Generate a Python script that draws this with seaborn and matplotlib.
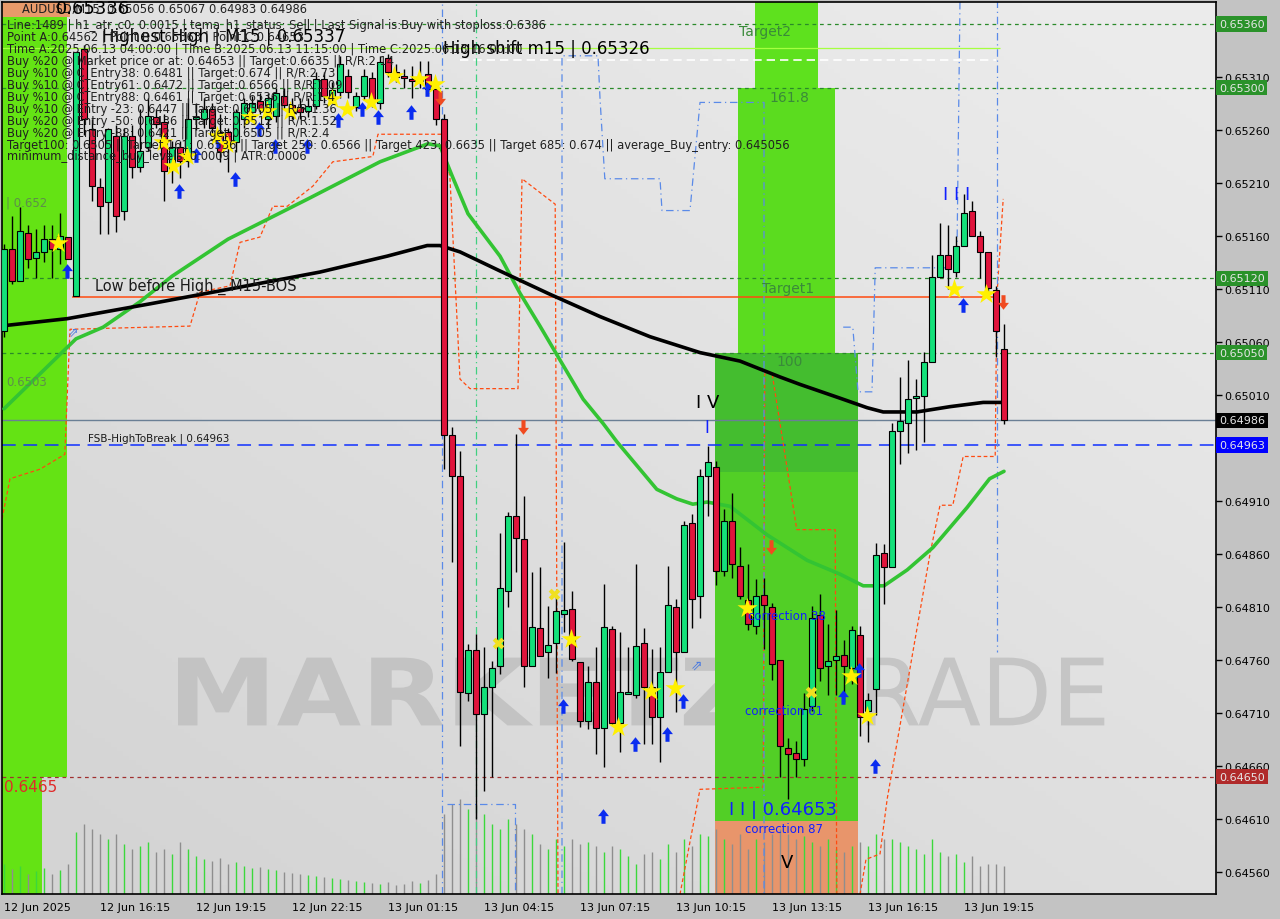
import matplotlib
matplotlib.use("Agg")
import numpy as np
import pandas as pd
import matplotlib.pyplot as plt
import matplotlib.transforms as mtransforms
from matplotlib.textpath import TextPath
from matplotlib.patches import PathPatch
from matplotlib.font_manager import FontProperties
import seaborn as sns

# ---------------- data ----------------
time_labels = ["12 Jun 2025", "12 Jun 16:15", "12 Jun 19:15", "12 Jun 22:15", "13 Jun 01:15",
               "13 Jun 04:15", "13 Jun 07:15", "13 Jun 10:15", "13 Jun 13:15", "13 Jun 16:15",
               "13 Jun 19:15"]
time_label_bars = [0, 12, 24, 36, 48, 60, 72, 84, 96, 108, 120]

opens = [0.65070, 0.65148, 0.65118, 0.65163, 0.65139, 0.65145, 0.65157, 0.65148, 0.65159, 0.65103,
         0.65336, 0.65261, 0.65206, 0.65192, 0.65254, 0.65184, 0.65254, 0.65225, 0.65244, 0.65272,
         0.65268, 0.65223, 0.65244, 0.65231, 0.65270, 0.65270, 0.65280, 0.65258, 0.65258, 0.65249,
         0.65270, 0.65277, 0.65287, 0.65270, 0.65273, 0.65292, 0.65284, 0.65282, 0.65278, 0.65283,
         0.65308, 0.65292, 0.65296, 0.65311, 0.65282, 0.65292, 0.65309, 0.65285, 0.65328, 0.65315,
         0.65311, 0.65308, 0.65306, 0.65313, 0.65299, 0.65270, 0.64972, 0.64934, 0.64729, 0.64769,
         0.64709, 0.64735, 0.64754, 0.64825, 0.64896, 0.64874, 0.64754, 0.64790, 0.64768, 0.64776,
         0.64803, 0.64808, 0.64758, 0.64702, 0.64739, 0.64696, 0.64789, 0.64701, 0.64728, 0.64727,
         0.64776, 0.64735, 0.64706, 0.64749, 0.64810, 0.64768, 0.64889, 0.64820, 0.64934, 0.64942,
         0.64844, 0.64891, 0.64849, 0.64817, 0.64792, 0.64821, 0.64810, 0.64760, 0.64677, 0.64672,
         0.64667, 0.64717, 0.64802, 0.64754, 0.64760, 0.64765, 0.64752, 0.64784, 0.64712, 0.64733,
         0.64861, 0.64848, 0.64976, 0.64984, 0.65007, 0.65009, 0.65041, 0.65121, 0.65142, 0.65126,
         0.65151, 0.65184, 0.65160, 0.65145, 0.65109, 0.65053]
highs = [0.65152, 0.65179, 0.65187, 0.65170, 0.65167, 0.65170, 0.65170, 0.65182, 0.65159, 0.65334,
         0.65340, 0.65270, 0.65215, 0.65262, 0.65265, 0.65262, 0.65265, 0.65280, 0.65290, 0.65280,
         0.65275, 0.65250, 0.65250, 0.65290, 0.65285, 0.65290, 0.65285, 0.65275, 0.65262, 0.65280,
         0.65290, 0.65292, 0.65295, 0.65295, 0.65300, 0.65300, 0.65290, 0.65290, 0.65290, 0.65315,
         0.65315, 0.65305, 0.65330, 0.65318, 0.65296, 0.65318, 0.65315, 0.65330, 0.65332, 0.65322,
         0.65318, 0.65320, 0.65325, 0.65325, 0.65305, 0.65275, 0.64980, 0.64957, 0.64775, 0.64785,
         0.64772, 0.64759, 0.64880, 0.64900, 0.64973, 0.64915, 0.64843, 0.64848, 0.64811, 0.64820,
         0.64871, 0.64825, 0.64758, 0.64754, 0.64772, 0.64832, 0.64792, 0.64786, 0.64772, 0.64851,
         0.64790, 0.64770, 0.64772, 0.64849, 0.64818, 0.64891, 0.64898, 0.64940, 0.64962, 0.64948,
         0.64902, 0.64918, 0.64867, 0.64851, 0.64836, 0.64837, 0.64814, 0.64760, 0.64686, 0.64684,
         0.64729, 0.64811, 0.64822, 0.64794, 0.64807, 0.64779, 0.64792, 0.64792, 0.64729, 0.64870,
         0.64869, 0.64984, 0.65027, 0.65043, 0.65025, 0.65051, 0.65142, 0.65172, 0.65170, 0.65160,
         0.65200, 0.65193, 0.65165, 0.65145, 0.65113, 0.65077]
lows = [0.65065, 0.65115, 0.65118, 0.65130, 0.65120, 0.65135, 0.65120, 0.65134, 0.65138, 0.65103,
        0.65255, 0.65193, 0.65162, 0.65162, 0.65164, 0.65175, 0.65215, 0.65220, 0.65240, 0.65262,
        0.65193, 0.65210, 0.65215, 0.65225, 0.65260, 0.65262, 0.65255, 0.65230, 0.65220, 0.65239,
        0.65262, 0.65270, 0.65275, 0.65262, 0.65268, 0.65280, 0.65270, 0.65270, 0.65272, 0.65280,
        0.65285, 0.65285, 0.65290, 0.65290, 0.65278, 0.65288, 0.65282, 0.65280, 0.65310, 0.65305,
        0.65300, 0.65290, 0.65300, 0.65295, 0.65265, 0.64940, 0.64852, 0.64679, 0.64721, 0.64610,
        0.64636, 0.64650, 0.64747, 0.64810, 0.64843, 0.64735, 0.64754, 0.64764, 0.64743, 0.64748,
        0.64786, 0.64759, 0.64697, 0.64695, 0.64671, 0.64659, 0.64699, 0.64673, 0.64728, 0.64724,
        0.64681, 0.64681, 0.64664, 0.64749, 0.64711, 0.64768, 0.64790, 0.64800, 0.64896, 0.64831,
        0.64839, 0.64837, 0.64818, 0.64788, 0.64785, 0.64770, 0.64741, 0.64650, 0.64629, 0.64650,
        0.64660, 0.64712, 0.64740, 0.64727, 0.64727, 0.64720, 0.64737, 0.64688, 0.64683, 0.64708,
        0.64813, 0.64848, 0.64945, 0.64955, 0.64958, 0.64966, 0.65041, 0.65121, 0.65110, 0.65121,
        0.65151, 0.65160, 0.65120, 0.65106, 0.65046, 0.64983]
closes = [0.65148, 0.65118, 0.65165, 0.65138, 0.65145, 0.65157, 0.65148, 0.65160, 0.65138, 0.65334,
          0.65270, 0.65207, 0.65188, 0.65261, 0.65179, 0.65254, 0.65225, 0.65240, 0.65273, 0.65266,
          0.65221, 0.65244, 0.65231, 0.65270, 0.65272, 0.65280, 0.65262, 0.65239, 0.65249, 0.65277,
          0.65285, 0.65285, 0.65281, 0.65290, 0.65295, 0.65284, 0.65276, 0.65277, 0.65283, 0.65308,
          0.65292, 0.65298, 0.65322, 0.65296, 0.65292, 0.65311, 0.65287, 0.65324, 0.65315, 0.65310,
          0.65309, 0.65306, 0.65310, 0.65299, 0.65270, 0.64972, 0.64934, 0.64730, 0.64769, 0.64709,
          0.64735, 0.64752, 0.64828, 0.64896, 0.64875, 0.64754, 0.64791, 0.64764, 0.64774, 0.64806,
          0.64807, 0.64761, 0.64702, 0.64739, 0.64696, 0.64791, 0.64701, 0.64730, 0.64730, 0.64773,
          0.64735, 0.64706, 0.64749, 0.64812, 0.64768, 0.64887, 0.64818, 0.64934, 0.64947, 0.64844,
          0.64891, 0.64851, 0.64820, 0.64794, 0.64820, 0.64812, 0.64756, 0.64679, 0.64671, 0.64667,
          0.64714, 0.64800, 0.64752, 0.64759, 0.64764, 0.64754, 0.64788, 0.64706, 0.64722, 0.64859,
          0.64848, 0.64976, 0.64985, 0.65006, 0.65009, 0.65041, 0.65121, 0.65142, 0.65129, 0.65151,
          0.65182, 0.65160, 0.65145, 0.65111, 0.65070, 0.64986]
volumes = [300, 250, 280, 200, 230, 260, 200, 240, 300,
           620, 700, 650, 600, 550, 600, 500, 450, 480, 520, 420, 450,
           400, 520, 450, 380, 350, 330, 360, 300, 320, 280, 260, 270, 250,
           240, 220, 210, 200, 190, 180, 170, 160, 150, 140, 130, 120, 110, 100, 120, 90, 100,
           130, 110, 140, 200,
           800, 900, 950, 850, 900, 800, 700, 650, 750, 700, 650, 600, 500, 450, 550, 480,
           550, 500, 520, 480, 420, 480, 450, 380, 300, 400, 420, 350, 500, 420, 550, 480, 600, 580,
           650, 550, 500, 600, 450, 550, 520, 600, 650, 600, 550, 580, 520, 480, 550, 450, 420,
           480, 520, 480, 600, 550,
           550, 520, 480, 450, 400, 550, 420, 380, 400, 320, 380, 280, 300, 300, 280]

# moving averages (bar index, price)
green_ma_bar = [0, 4.5, 9, 12.4, 17, 21, 28, 38, 47, 53, 54.5, 56, 58, 62, 64.5, 67, 69.5, 72.4,
                74.9, 76.6, 81.6, 84.1, 86.1, 87.9, 90.75, 95.4, 100.4, 104.5, 107.4, 110,
                112.9, 116.1, 120.4, 123.2, 125]
green_ma_val = [0.64997, 0.65030, 0.65063, 0.65074, 0.65098, 0.65122, 0.65157, 0.65195, 0.65230,
                0.65247, 0.65245, 0.65217, 0.65181, 0.65141, 0.65106, 0.65075, 0.65043, 0.65006,
                0.64983, 0.64966, 0.64921, 0.64912, 0.64907, 0.64909, 0.64905, 0.64878, 0.64854,
                0.64841, 0.64830, 0.64830, 0.64845, 0.64866, 0.64904, 0.64931, 0.64938]
black_ma_bar = [-0.5, 7.9, 18.25, 28.25, 39.5, 47.9, 52.9, 54.5, 57, 62, 68.25, 74.5, 80.75, 87,
                92, 97, 99.5, 104.5, 107.9, 109.9, 114.1, 118.25, 122.4, 125]
black_ma_val = [0.65075, 0.65082, 0.65096, 0.65110, 0.65126, 0.65141, 0.65151, 0.65151, 0.65145,
                0.65127, 0.65105, 0.65084, 0.65065, 0.65050, 0.65042, 0.65027, 0.65020, 0.65007,
                0.64998, 0.64994, 0.64994, 0.64999, 0.65003, 0.65003]

# step channels (bar index, price)
orange_a_bar = [-0.25, 0.75, 4.5, 7.6, 8.25, 23.25, 24.5, 28.25, 29.5, 32, 33.6, 35.4, 38.6, 41.1,
                46.1, 46.75, 54.9, 55.75, 57, 58.25, 64.25, 64.75, 68.9, 69.25]
orange_a_val = [0.64893, 0.64931, 0.64940, 0.64954, 0.65072, 0.65075, 0.65107, 0.65113, 0.65154,
                0.65159, 0.65188, 0.65188, 0.65207, 0.65230, 0.65235, 0.65256, 0.65256, 0.65214,
                0.65025, 0.65016, 0.65016, 0.65214, 0.65190, 0.64539]
orange_b_bar = [84.5, 87, 94.9, 95.1, 96, 99.1, 103.9, 104.1]
orange_b_val = [0.64539, 0.64638, 0.64640, 0.65031, 0.65031, 0.64883, 0.64883, 0.64539]
orange_c_bar = [107, 107.75, 109.5, 110.4, 115.75, 117, 118.6, 119.9, 123.9, 124.1, 124.9]
orange_c_val = [0.64539, 0.64572, 0.64577, 0.64629, 0.64860, 0.64906, 0.64906, 0.64952, 0.64952,
                0.65102, 0.65195]
blue_a_bar = [55.4, 63.9, 63.9]
blue_a_val = [0.64624, 0.64624, 0.64539]
blue_b_bar = [69.75, 69.75, 74.25, 74.5, 75.1, 82, 82.25, 85.75, 87, 95, 95]
blue_b_val = [0.64539, 0.65330, 0.65330, 0.65290, 0.65214, 0.65214, 0.65184, 0.65184, 0.65286,
              0.65286, 0.64539]
blue_c_bar = [104.9, 106.1, 106.75, 108.5, 108.9, 119.1, 119.5]
blue_c_val = [0.65074, 0.65074, 0.65013, 0.65013, 0.65130, 0.65130, 0.65383]
blue_d_bar = [124.1, 124.1]
blue_d_val = [0.65383, 0.64768]

# signals
buy_arrow_bar = [7.9, 21.9, 24, 26.75, 28.9, 31.9, 33.9, 37.9, 41.75, 44.75, 46.75, 50.9, 52.9,
                 69.9, 74.9, 78.9, 82.9, 84.9, 104.9, 106.9, 108.9, 119.9]
buy_arrow_val = [0.65127, 0.65202, 0.65236, 0.65250, 0.65214, 0.65261, 0.65245, 0.65245, 0.65269,
                 0.65280, 0.65272, 0.65277, 0.65299, 0.64717, 0.64613, 0.64681, 0.64690, 0.64721,
                 0.64725, 0.64751, 0.64660, 0.65095]
sell_arrow_bar = [54.5, 64.9, 95.9, 124.9]
sell_arrow_val = [0.65290, 0.64980, 0.64867, 0.65098]
star_bar = [6.75, 19.9, 21.1, 22.9, 26.6, 27.9, 30.75, 32.9, 35.75, 41, 42.9, 45.9, 48.75, 51.9,
            53.9, 70.9, 76.75, 80.9, 83.9, 92.9, 105.9, 107.9, 118.75, 122.75]
star_val = [0.65153, 0.65249, 0.65226, 0.65235, 0.65254, 0.65247, 0.65272, 0.65278, 0.65278,
            0.65289, 0.65280, 0.65286, 0.65311, 0.65308, 0.65303, 0.64780, 0.64697, 0.64731,
            0.64734, 0.64809, 0.64745, 0.64707, 0.65110, 0.65105]
cross_bar = [61.75, 68.75, 100.9]
cross_val = [0.64776, 0.64822, 0.64730]

# levels
green_levels = [0.65360, 0.65300, 0.65120, 0.65050]
support_level = 0.64650
bid_level = 0.64986
fsb_level = 0.64963
bos_level = 0.65102
highest_high = 0.65337
high_shift = 0.65326

y_ticks = [0.64560, 0.64610, 0.64660, 0.64710, 0.64760, 0.64810, 0.64860, 0.64910, 0.65010,
           0.65060, 0.65110, 0.65160, 0.65210, 0.65260, 0.65310]
price_boxes = [("0.65360", 0.65360, "#2a922a"), ("0.65300", 0.65300, "#2a922a"),
               ("0.65120", 0.65120, "#2a922a"), ("0.65050", 0.65050, "#2a922a"),
               ("0.64986", 0.64986, "#000000"), ("0.64963", 0.64963, "#0000ff"),
               ("0.64650", 0.64650, "#b02a2a")]

info_lines = [
    "Line:1489 | h1_atr_c0: 0.0015 | tema_h1_status: Sell | Last Signal is:Buy with stoploss:0.6386",
    "Point A:0.64562 | Point B:0.65363 | Point C:0.64653",
    "Time A:2025.06.13 04:00:00 | Time B:2025.06.13 11:15:00 | Time C:2025.06.13 16:00:00",
    "Buy %20 @ Market price or at: 0.64653 || Target:0.6635 || R/R:2.14",
    "Buy %10 @ C_Entry38: 0.6481 || Target:0.674 || R/R:2.73",
    "Buy %10 @ C_Entry61: 0.6472 || Target:0.6566 || R/R:1.09",
    "Buy %10 @ C_Entry88: 0.6461 || Target:0.6536 || R/R:1.4",
    "Buy %10 @ Entry -23: 0.6447 || Target:0.6505 || R/R:1.36",
    "Buy %20 @ Entry -50: 0.6436 || Target:0.6512 || R/R:1.52",
    "Buy %20 @ Entry -88: 0.6421 || Target:0.6505 || R/R:2.4",
    "Target100: 0.6505 || Target 161: 0.6536 || Target 250: 0.6566 || Target 423: 0.6635 || Target 685: 0.674 || average_Buy_entry: 0.645056",
    "minimum_distance_buy_levels: 0.0009 | ATR:0.0006",
]

# ---------------- figure ----------------
sns.set_style("white")
plt.rcParams["font.family"] = ["DejaVu Sans"]

W, H = 1280, 920
fig = plt.figure(figsize=(W / 100, H / 100), dpi=100, facecolor="#c3c3c3")
ax = fig.add_axes([2 / W, 1 - 895 / H, 1214 / W, 892 / H])

# background gradient
gx, gy = np.meshgrid(np.linspace(0, 1, 200), np.linspace(0, 1, 200))
shade = np.clip(0.55 * gx + 0.6 * gy - 0.1, 0, 1)
c0 = np.array([0.835, 0.835, 0.835])
c1 = np.array([0.925, 0.925, 0.925])
img = c0 + (c1 - c0) * shade[..., None]
ax.imshow(img, extent=[0, 1, 0, 1], transform=ax.transAxes, origin="lower",
          aspect="auto", zorder=0)
ax.set_xlim(-0.25, 151.5)
ax.set_ylim(0.6453925, 0.6538075)


# condensed watermark letters, stretched into a box given in axes fractions
def stretched_text(s, x0, x1, y0, y1, color, weight):
    tp = TextPath((0, 0), s, size=1, prop=FontProperties(family="DejaVu Sans", weight=weight))
    ext = tp.get_extents()
    tr = (mtransforms.Affine2D().translate(-ext.x0, -ext.y0)
          .scale((x1 - x0) / ext.width, (y1 - y0) / ext.height).translate(x0, y0))
    ax.add_patch(PathPatch(tr.transform_path(tp), fc=color, ec="none",
                           transform=ax.transAxes, zorder=0.5))


stretched_text("MARKETZI", 0.145, 0.648, 0.189, 0.265, "#c3c3c3", "bold")
stretched_text("TRADE", 0.658, 0.908, 0.189, 0.265, "#c5c5c5", "normal")

ytop, ybot = 0.6538075, 0.6453925
# zones
zones = [(-0.25, 7.9, 0.64650, 0.65367, "#64e314"),
         (-0.25, 4.75, ybot, 0.64650, "#64e314"),
         (-0.25, 8.25, 0.65367, ytop, "#e89a6a"),
         (93.9, 101.75, 0.65300, ytop, "#5ee11e"),
         (91.75, 103.9, 0.65050, 0.65300, "#5bdc1f"),
         (88.9, 106.75, 0.64608, 0.65050, "#52cf26"),
         (88.9, 106.75, ybot, 0.64608, "#e8956b")]
for x0, x1, y0, y1, col in zones:
    ax.fill_between([x0, x1], y0, y1, color=col, lw=0, zorder=1)
ax.fill_between([88.9, 106.75], 0.64937, 0.65050, color="#34a83c", alpha=0.45, lw=0, zorder=1.1)

# levels
for lv in green_levels:
    ax.axhline(lv, color="#2a8a2a", ls=(0, (3, 3)), lw=0.9, zorder=2)
ax.axhline(support_level, color="#a03030", ls=(0, (3, 3)), lw=0.9, zorder=2)
ax.axhline(bid_level, color="#6a7f95", lw=1.0, zorder=2)
ax.axhline(fsb_level, color="#1030ff", ls=(0, (9, 5)), lw=1.1, zorder=2)
ax.hlines(bos_level, 8.5, 124.5, color="#ff4a10", lw=1.1, zorder=2)
ax.hlines(highest_high, -0.25, 124.5, color="#a6ff40", lw=0.9, zorder=2)
ax.hlines(high_shift, 57, 124, color="white", ls=(0, (5, 3)), lw=1.2, zorder=2)
ax.axvline(54.75, color="#5a8ae8", ls=(0, (6, 3, 1, 3)), lw=0.9, zorder=2)
ax.axvline(59, color="#40d080", ls=(0, (6, 3, 1, 3)), lw=0.9, zorder=2)

# step channels
for xs, ys in [(orange_a_bar, orange_a_val), (orange_b_bar, orange_b_val), (orange_c_bar, orange_c_val)]:
    ax.plot(xs, ys, color="#ff4a10", ls=(0, (3, 2)), lw=0.9, zorder=2.2)
for xs, ys in [(blue_a_bar, blue_a_val), (blue_b_bar, blue_b_val), (blue_c_bar, blue_c_val),
               (blue_d_bar, blue_d_val)]:
    ax.plot(xs, ys, color="#5a8ae8", ls=(0, (6, 3, 1, 3)), lw=0.9, zorder=2.2)

# volume bars
bars = np.arange(len(closes))
vol_tr = mtransforms.blended_transform_factory(ax.transData, ax.transAxes)
vol_colors = ["#3cd83c" if c >= o else "#8e8e8e" for o, c in zip(opens, closes)]
ax.vlines(bars, 0, np.array(volumes) / 8920, colors=vol_colors, lw=1.0, transform=vol_tr,
          zorder=1.5)

# moving averages
ma = pd.DataFrame({"bar": green_ma_bar, "price": green_ma_val})
sns.lineplot(data=ma, x="bar", y="price", color="#33c433", lw=2.6, ax=ax, zorder=3,
             estimator=None, sort=False)
mb = pd.DataFrame({"bar": black_ma_bar, "price": black_ma_val})
sns.lineplot(data=mb, x="bar", y="price", color="black", lw=2.6, ax=ax, zorder=3,
             estimator=None, sort=False)

# candles
o = np.array(opens); c = np.array(closes)
up = c >= o
ax.vlines(bars, lows, highs, color="black", lw=1.0, zorder=4)
ax.bar(bars[up], (c - o)[up], bottom=o[up], width=0.66, color="#14e07a",
       edgecolor="black", lw=0.8, zorder=5)
ax.bar(bars[~up], (o - c)[~up], bottom=c[~up], width=0.66, color="#e0143c",
       edgecolor="black", lw=0.8, zorder=5)

# signal markers
up_arrow = [(0, 1), (-0.75, 0.05), (-0.28, 0.05), (-0.28, -1), (0.28, -1), (0.28, 0.05),
            (0.75, 0.05), (0, 1)]
down_arrow = [(x, -y) for x, y in up_arrow]
ax.scatter(buy_arrow_bar, buy_arrow_val, marker=up_arrow, s=110, color="#0a2cf0", lw=0,
           zorder=6)
ax.scatter(sell_arrow_bar, sell_arrow_val, marker=down_arrow, s=110, color="#f04a20", lw=0,
           zorder=6)
ax.scatter(star_bar, star_val, marker="*", s=230, color="#fff000", lw=0, zorder=6)
ax.scatter(cross_bar, cross_val, marker="X", s=70, color="#f0e020", lw=0, zorder=6)
ax.text(8.6, 0.65070, "⇗", color="#4a7ae0", fontsize=9, ha="center", va="center", zorder=6)
ax.text(86.6, 0.64756, "⇗", color="#4a7ae0", fontsize=10, ha="center", va="center", zorder=6)

# chart annotations
ax.text(11.4, 0.65113, "Low before High _ M15-BOS", fontsize=10.5, color="#1a1a1a",
        va="center", zorder=7)
ax.text(10.5, 0.64970, "FSB-HighToBreak | 0.64963", fontsize=7.5, color="#1a1a1a",
        va="center", zorder=7)
ax.text(0.3, 0.65192, "| 0.652", fontsize=8.5, color="#5d8f4a", va="center", zorder=7)
ax.text(0.3, 0.65023, "0.6503", fontsize=8.5, color="#5d8f4a", va="center", zorder=7)
ax.text(0.0, 0.64641, "0.6465", fontsize=11, color="#e02a2a", va="center", zorder=7)
for txt, xb, yp in [("Target2", 95.1, 0.65353), ("161.8", 98.2, 0.65291),
                    ("Target1", 98.0, 0.65111), ("100", 98.2, 0.65042)]:
    ax.text(xb, yp, txt, fontsize=10, color="#3a8a3a", ha="center", va="center", zorder=7)
ax.text(87.9, 0.65003, "I V", fontsize=13, color="black", ha="center", va="center", zorder=7)
ax.text(87.9, 0.64980, "I", fontsize=12, color="#1020ff", ha="center", va="center", zorder=7)
ax.text(119.1, 0.65200, "I I I", fontsize=13, color="#1020ff", ha="center", va="center", zorder=7)
ax.text(93.0, 0.64802, "correction 38", fontsize=8.5, color="#1020ff", va="center", zorder=7)
ax.text(92.6, 0.64712, "correction 61", fontsize=8.5, color="#1020ff", va="center", zorder=7)
ax.text(90.6, 0.64619, "I I | 0.64653", fontsize=13, color="#1020ff", va="center", zorder=7)
ax.text(92.6, 0.64601, "correction 87", fontsize=8.5, color="#1020ff", va="center", zorder=7)
ax.text(97.9, 0.64569, "V", fontsize=13, color="black", ha="center", va="center", zorder=7)


# info block (top-left), positioned in figure pixels
def fx(px):
    return px / W


def fy(py):
    return 1 - py / H


fig.text(fx(22), fy(9), "AUDUSD,M15  0.65056 0.65067 0.64983 0.64986", fontsize=8.3,
         color="#202020", va="center", zorder=10)
fig.text(fx(56), fy(9), "0.65336", fontsize=13, color="black", va="center", zorder=10)
fig.text(fx(102), fy(37), "Highest High | M15 | 0.65337", fontsize=12, color="black",
         va="center", zorder=10)
fig.text(fx(443), fy(49), "High shift m15 | 0.65326", fontsize=12, color="black",
         va="center", zorder=10)
for k, line in enumerate(info_lines):
    fig.text(fx(7), fy(25 + 12 * k), line, fontsize=8.3, color="#202020", va="center",
             zorder=10)

# axes styling
ax.yaxis.tick_right()
ax.set_yticks(y_ticks)
ax.set_yticklabels([f"{t:.5f}" for t in y_ticks], fontsize=8)
ax.set_xticks(time_label_bars)
ax.set_xticklabels(time_labels, fontsize=8, ha="left")
ax.tick_params(axis="both", direction="out", length=4, width=1, colors="black", pad=2)
ax.set_xlabel("")
ax.set_ylabel("")
for sp in ax.spines.values():
    sp.set_color("black")
    sp.set_linewidth(1.2)

ybt = mtransforms.blended_transform_factory(ax.transAxes, ax.transData)
for label, price, col in price_boxes:
    ax.text(1.0025, price, label, transform=ybt, fontsize=8, color="#e6e6e6", ha="left",
            va="center", zorder=8, clip_on=False,
            bbox=dict(boxstyle="square,pad=0.25", fc=col, ec="none"))

fig.savefig("out.png", dpi=100, facecolor=fig.get_facecolor())
